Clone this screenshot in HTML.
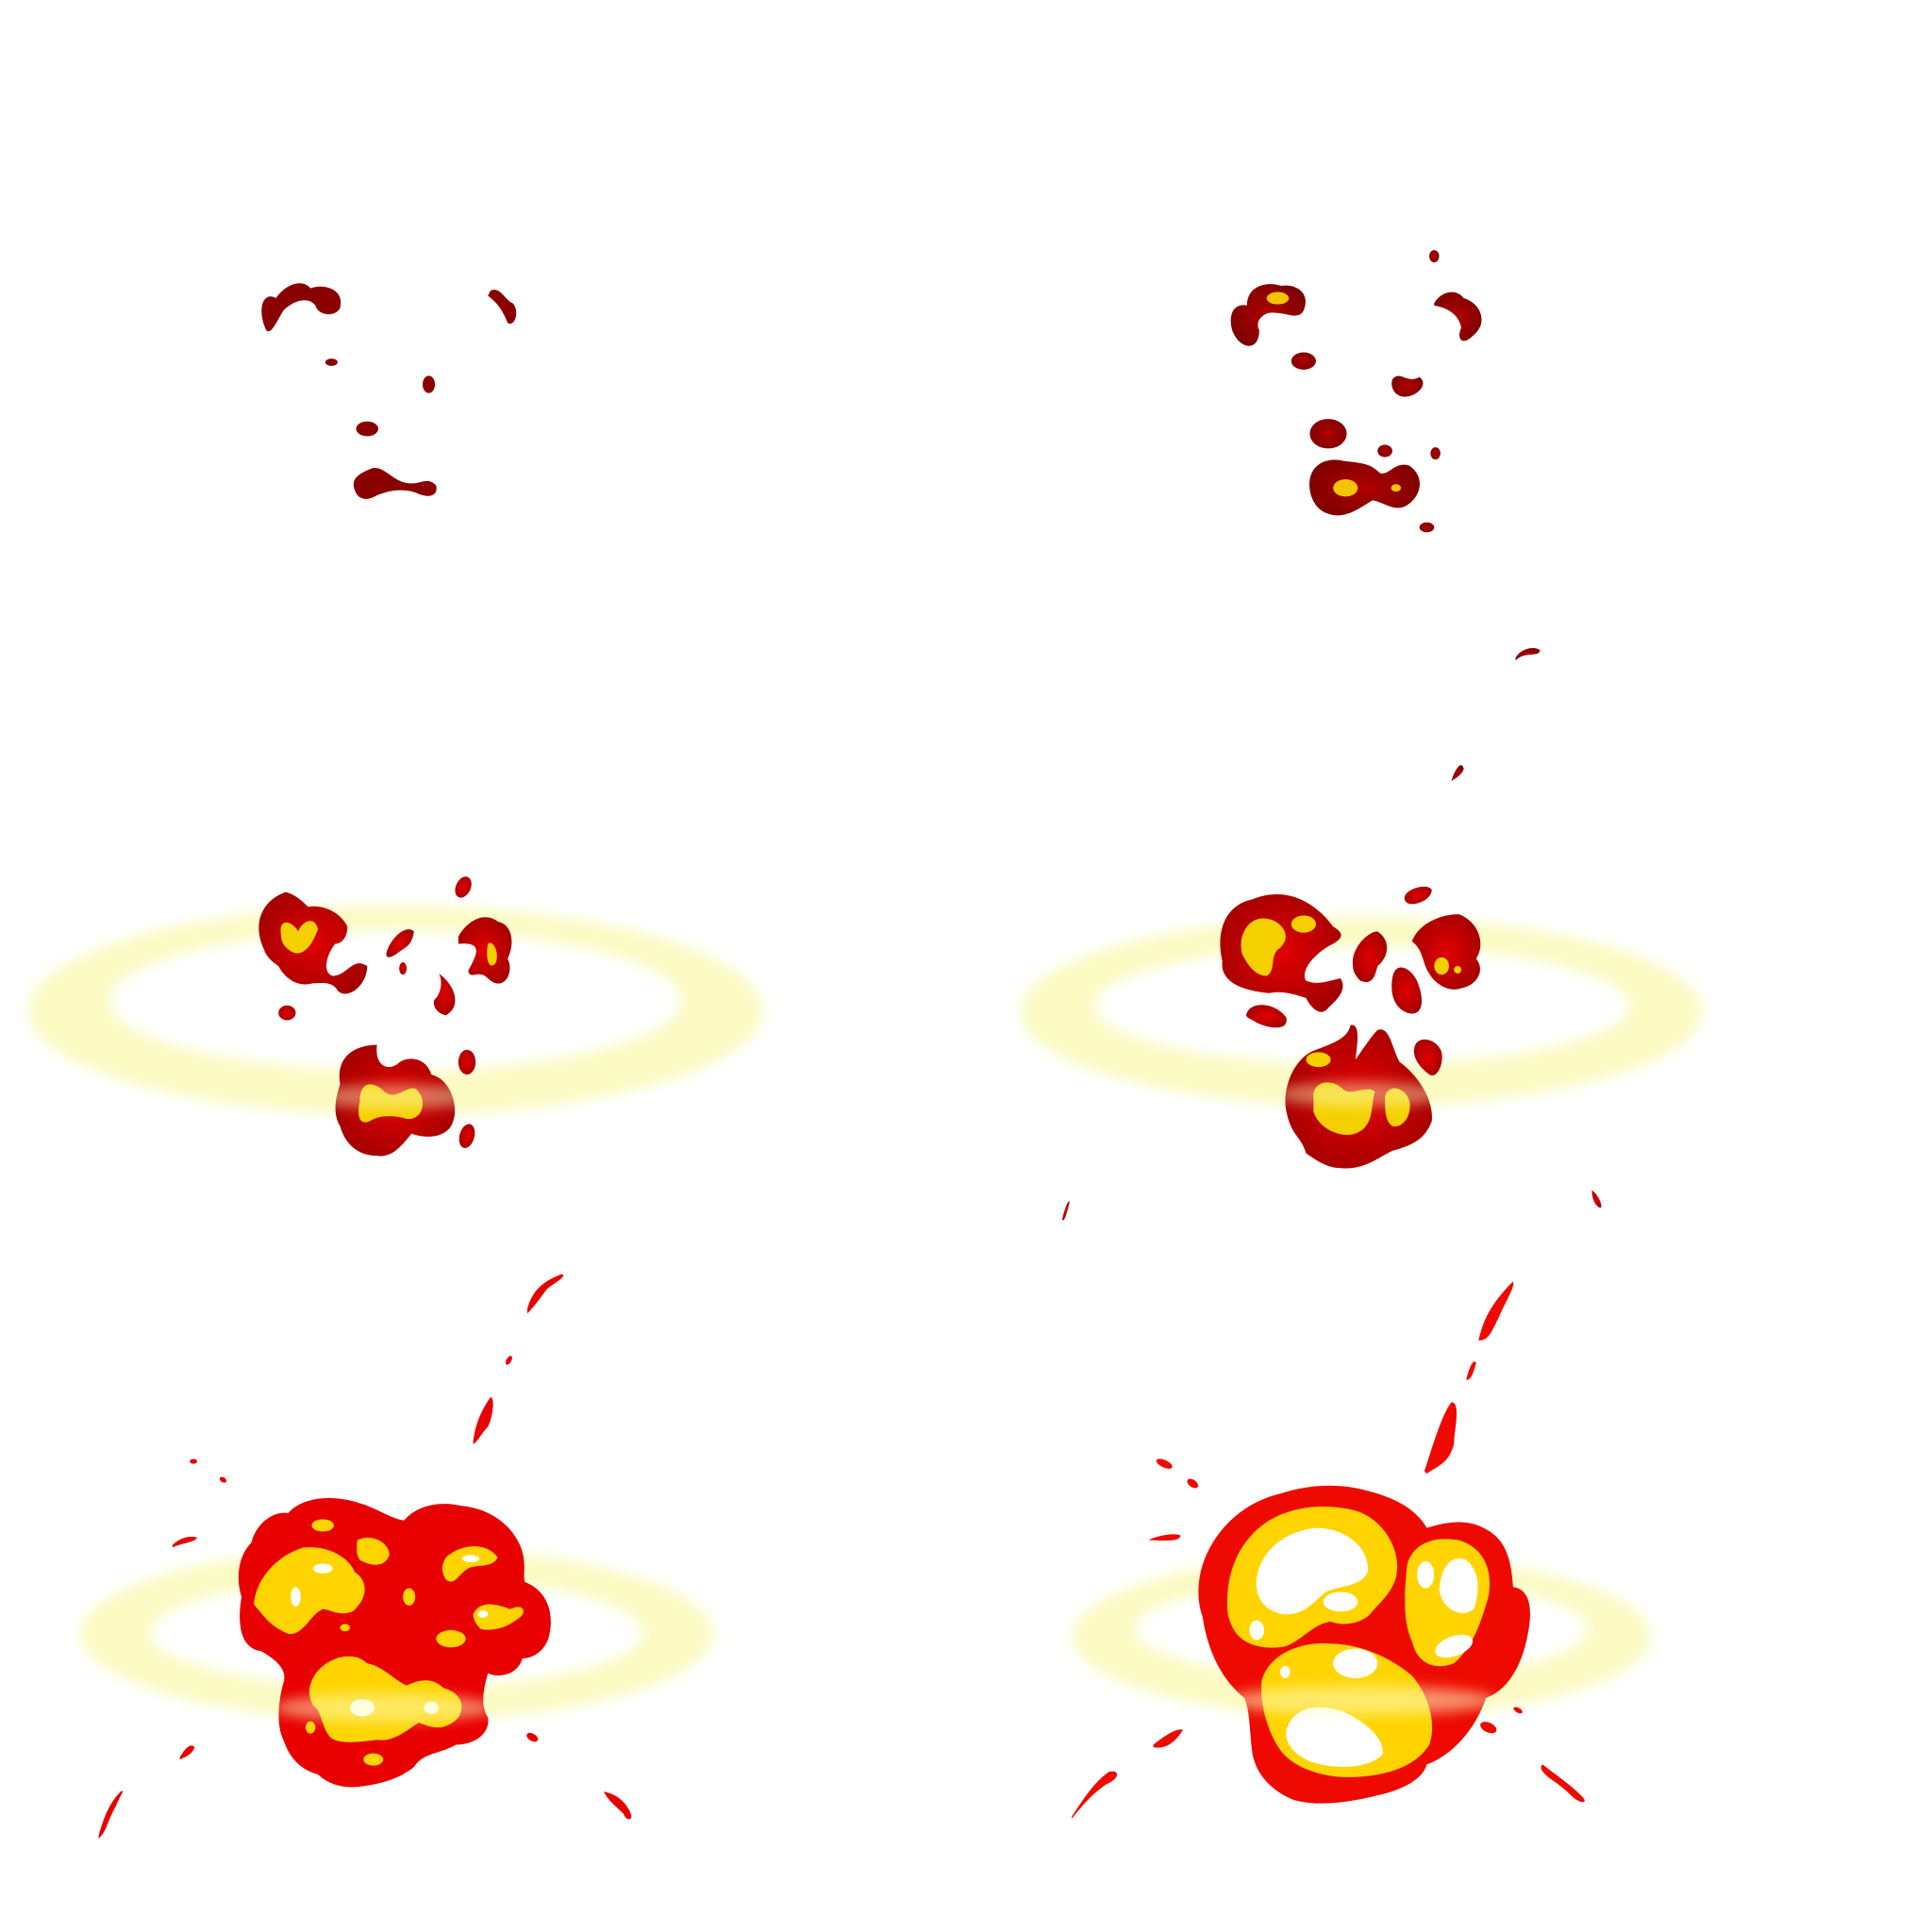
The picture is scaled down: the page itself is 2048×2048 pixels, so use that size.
<!DOCTYPE html>
<html><head><meta charset="utf-8"><style>
html,body{margin:0;padding:0;background:#fff;width:2048px;height:2048px;overflow:hidden}
svg{display:block}
</style></head><body>
<svg width="2048" height="2048" viewBox="0 0 1568 1568" xmlns="http://www.w3.org/2000/svg">
<defs>
<radialGradient id="dark" cx="50%" cy="50%" r="60%"><stop offset="0" stop-color="#b00000"/><stop offset="1" stop-color="#7a0000"/></radialGradient>
<radialGradient id="mid" cx="50%" cy="50%" r="60%"><stop offset="0" stop-color="#e00000"/><stop offset="1" stop-color="#a00000"/></radialGradient>
<filter id="blur" x="-20%" y="-50%" width="140%" height="200%"><feGaussianBlur stdDeviation="10"/></filter>
<filter id="rb" x="-20%" y="-50%" width="140%" height="200%"><feGaussianBlur stdDeviation="5"/></filter>
</defs>

<!-- rings -->
<g fill="#fcfbc4" fill-rule="evenodd" filter="url(#rb)">
<path d="M23,820 a298,85 0 1,0 596,0 a298,85 0 1,0 -596,0Z M89,812 a232,57 0 1,0 464,0 a232,57 0 1,0 -464,0Z"/>
<path d="M828,821 a277,77 0 1,0 554,0 a277,77 0 1,0 -554,0Z M888,816 a217,48 0 1,0 434,0 a217,48 0 1,0 -434,0Z"/>
<path d="M65,1326 a257,71 0 1,0 514,0 a257,71 0 1,0 -514,0Z M122,1325 a200,45 0 1,0 400,0 a200,45 0 1,0 -400,0Z"/>
<path d="M870,1328 a235,66 0 1,0 470,0 a235,66 0 1,0 -470,0Z M921,1322 a184,40 0 1,0 368,0 a184,40 0 1,0 -368,0Z"/>
</g>

<!-- Frame 1 -->
<g fill="#8a0000">
<path d="M216,268 C208,250 214,236 224,242 C232,230 246,226 252,234 C262,230 280,234 276,250 C272,258 258,256 256,248 C250,240 238,244 230,252 C224,262 220,272 216,268Z"/>
<path d="M398,236 C406,232 410,244 416,246 C422,252 418,266 412,262 C408,252 404,246 396,240Z"/>
<ellipse cx="269" cy="294" rx="5" ry="3"/>
<ellipse cx="348" cy="312" rx="5" ry="7"/>
<ellipse cx="298" cy="348" rx="9" ry="6"/>
<path d="M288,398 C284,388 292,384 302,380 C312,378 318,390 330,392 C342,394 346,386 354,394 C356,404 346,404 338,400 C326,396 316,398 306,402 C296,408 290,404 288,398Z"/>
</g>

<!-- Frame 2 -->
<g>
<g fill="url(#dark)">
<path d="M1000,268 C996,252 1004,246 1012,248 C1012,232 1028,228 1040,232 C1052,230 1064,238 1058,252 C1054,260 1044,254 1036,254 C1026,252 1018,260 1022,268 C1022,286 1006,284 1000,268Z"/>
<path d="M1164,246 C1170,236 1182,234 1188,242 C1202,246 1208,262 1196,272 C1186,282 1182,274 1186,266 C1184,256 1176,250 1164,248Z"/>
<ellipse cx="1164" cy="208" rx="4" ry="5"/>
<ellipse cx="1058" cy="293" rx="10" ry="7"/>
<path d="M1130,308 C1136,300 1142,312 1152,306 C1160,312 1150,322 1140,322 C1132,322 1128,314 1130,308Z"/>
<ellipse cx="1078" cy="352" rx="15" ry="12"/>
<ellipse cx="1124" cy="366" rx="6" ry="5"/><ellipse cx="1165" cy="368" rx="4" ry="5"/>
<path d="M1064,402 C1058,380 1074,370 1090,374 C1106,376 1112,376 1120,384 C1128,386 1132,374 1144,378 C1158,388 1152,404 1142,410 C1132,416 1124,408 1114,406 C1104,412 1094,420 1082,418 C1070,416 1066,408 1064,402Z"/>
<ellipse cx="1158" cy="428" rx="6" ry="4"/>
<path d="M1230,534 C1234,526 1246,524 1250,528 C1248,534 1238,528 1230,536Z"/>
<path d="M1178,634 C1180,626 1186,616 1188,624 C1186,630 1180,632 1178,634Z"/>
</g>
<g fill="#f5c400"><ellipse cx="1037" cy="242" rx="9" ry="5"/><ellipse cx="1092" cy="396" rx="10" ry="7"/><ellipse cx="1133" cy="396" rx="4" ry="3"/></g>
</g>

<!-- Frame 3 -->
<g>
<g fill="url(#mid)">
<path d="M214,770 C204,748 214,730 232,724 C240,726 246,732 250,736 C262,734 276,740 282,752 C282,762 276,766 272,766 C264,776 262,790 270,792 C282,792 286,776 298,784 C298,800 282,812 274,804 C270,796 260,798 254,798 C240,802 230,792 226,784 C220,780 216,776 214,770Z"/>
<path d="M372,760 C380,746 394,740 404,748 C416,750 418,766 412,778 C418,790 408,806 396,794 C388,786 382,796 380,788 C386,776 394,764 372,766Z"/>
<ellipse cx="376" cy="720" rx="6" ry="9" transform="rotate(25 376 720)"/>
<path d="M314,772 C318,760 330,750 336,756 C334,768 330,768 322,774 C316,778 312,778 314,772Z"/>
<ellipse cx="327" cy="786" rx="3" ry="5"/>
<path d="M356,790 C368,798 376,816 362,824 C352,822 350,812 354,810 C360,802 358,792 356,790Z"/>
<ellipse cx="233" cy="822" rx="7" ry="6"/>
<path d="M276,880 C272,856 290,848 306,848 C304,862 312,870 322,864 C330,856 346,858 350,872 C366,876 374,900 366,914 C360,924 344,924 334,920 C326,930 318,940 306,938 C290,938 280,928 276,914 C270,904 272,892 276,880Z"/>
<ellipse cx="379" cy="862" rx="7" ry="10"/><ellipse cx="379" cy="922" rx="6" ry="10" transform="rotate(15 379 922)"/>
</g>
<g fill="#f5d000">
<path d="M228,758 C226,744 238,748 242,756 C246,746 256,744 258,754 C254,766 246,778 236,772 C230,768 228,764 228,758Z"/>
<path d="M396,766 C400,762 406,774 402,782 C396,788 394,776 396,766Z"/>
<path d="M292,894 C292,876 304,878 312,886 C322,894 330,880 338,884 C348,894 342,910 330,908 C316,904 306,906 300,910 C290,914 290,902 292,894Z"/>
</g>
<ellipse cx="322" cy="890" rx="70" ry="10" fill="#fdfcc0" opacity="0.45" filter="url(#rb)"/>
</g>

<!-- Frame 4 -->
<g>
<g fill="url(#mid)">
<path d="M992,780 C986,754 996,734 1016,730 C1040,720 1064,728 1082,752 C1092,758 1090,762 1078,768 C1062,778 1056,790 1060,796 C1070,800 1078,796 1088,794 C1094,804 1084,812 1078,818 C1072,826 1064,818 1060,810 C1048,806 1040,804 1030,806 C1010,804 990,798 992,780Z"/>
<path d="M1146,764 C1150,752 1166,742 1184,742 C1200,748 1206,766 1198,778 C1206,788 1198,800 1186,802 C1176,806 1164,798 1160,790 C1154,782 1156,772 1146,764Z"/>
<path d="M1140,730 C1138,722 1158,716 1162,722 C1162,732 1142,738 1140,730Z"/>
<path d="M1098,784 C1096,770 1110,756 1118,756 C1130,764 1126,778 1118,784 C1116,792 1114,800 1104,796 C1100,792 1098,788 1098,784Z"/>
<path d="M1130,794 C1132,780 1144,784 1150,796 C1156,810 1156,826 1142,822 C1132,818 1128,808 1130,794Z"/>
<path d="M1012,822 C1016,812 1036,814 1044,826 C1046,838 1028,834 1020,830 C1014,826 1010,826 1012,822Z"/>
<path d="M1044,902 C1040,884 1050,858 1068,852 C1084,846 1094,842 1096,832 C1104,830 1102,846 1100,860 C1106,852 1112,842 1118,836 C1128,832 1130,852 1136,862 C1150,872 1164,892 1162,910 C1156,926 1144,930 1130,934 C1118,940 1106,950 1088,948 C1076,948 1066,940 1060,936 C1056,922 1048,922 1044,902Z"/>
<path d="M1148,850 C1150,840 1166,842 1170,854 C1172,864 1166,876 1160,872 C1152,866 1146,858 1148,850Z"/>
<path d="M862,990 C864,980 868,972 868,976 C866,984 864,992 862,990Z"/>
<path d="M1292,966 C1298,970 1302,982 1298,980 C1294,978 1292,972 1292,966Z"/>
</g>
<g fill="#f5d000">
<path d="M1008,774 C1004,756 1016,742 1030,746 C1040,748 1050,760 1038,770 C1030,776 1036,788 1028,792 C1018,792 1012,782 1008,774Z"/>
<ellipse cx="1058" cy="750" rx="10" ry="7"/>
<ellipse cx="1170" cy="784" rx="6" ry="7"/><ellipse cx="1183" cy="787" rx="3" ry="3"/>
<ellipse cx="1070" cy="860" rx="10" ry="6"/>
<path d="M1066,892 C1064,878 1080,874 1090,884 C1096,890 1110,880 1116,886 C1112,898 1116,914 1100,920 C1088,924 1070,916 1066,902Z"/>
<path d="M1124,892 C1124,880 1140,880 1144,894 C1146,906 1138,916 1130,914 C1124,910 1124,900 1124,892Z"/>
</g>
<ellipse cx="1105" cy="888" rx="70" ry="10" fill="#fdfcc0" opacity="0.45" filter="url(#rb)"/>
</g>

<!-- Frame 5 -->
<g>
<path fill="#e80000" d="M196,1296 C190,1276 196,1260 204,1252 C208,1236 222,1226 234,1228 C244,1216 268,1212 292,1220 C306,1224 316,1232 328,1234 C338,1222 356,1218 374,1222 C396,1224 414,1236 422,1254 C428,1268 424,1278 426,1284 C442,1290 450,1306 446,1326 C444,1338 434,1346 424,1346 C420,1360 404,1362 396,1358 C392,1372 390,1384 396,1394 C398,1408 384,1416 370,1416 C356,1424 344,1422 336,1434 C324,1444 308,1448 292,1450 C276,1452 264,1446 258,1440 C242,1436 234,1424 230,1412 C224,1400 226,1380 230,1366 C234,1354 222,1346 212,1340 C196,1338 192,1320 196,1296Z"/>
<g fill="#ffd400">
<path d="M206,1302 C208,1280 226,1262 246,1256 C264,1254 282,1262 288,1276 C298,1282 300,1296 286,1308 C274,1312 268,1306 262,1306 C252,1310 246,1328 234,1326 C220,1320 216,1314 206,1302Z"/>
<path d="M290,1250 C302,1244 316,1252 316,1262 C312,1274 298,1270 292,1266 C288,1260 290,1254 290,1250Z"/>
<path d="M362,1264 C372,1254 394,1250 404,1264 C400,1272 390,1270 382,1272 C372,1276 370,1288 362,1282 C358,1276 358,1270 362,1264Z"/>
<path d="M384,1310 C390,1298 404,1302 414,1306 C426,1300 428,1310 420,1314 C410,1322 398,1324 390,1322 C386,1318 384,1314 384,1310Z"/>
<ellipse cx="262" cy="1238" rx="9" ry="5"/><ellipse cx="332" cy="1296" rx="5" ry="7"/>
<ellipse cx="366" cy="1330" rx="12" ry="7"/><ellipse cx="280" cy="1321" rx="4" ry="3"/>
<path d="M254,1362 C262,1346 286,1338 298,1350 C310,1352 318,1362 330,1368 C342,1362 352,1362 360,1370 C374,1374 378,1384 372,1394 C360,1406 350,1402 340,1398 C330,1404 320,1414 306,1412 C290,1414 276,1416 268,1410 C260,1400 262,1390 254,1384 C250,1376 250,1370 254,1362Z"/>
<ellipse cx="303" cy="1428" rx="8" ry="5"/><ellipse cx="252" cy="1402" rx="4" ry="5"/>
</g>
<g fill="#fff"><ellipse cx="262" cy="1273" rx="8" ry="4"/><ellipse cx="240" cy="1296" rx="4" ry="8"/><ellipse cx="382" cy="1265" rx="7" ry="3"/><ellipse cx="392" cy="1310" rx="4" ry="3"/><ellipse cx="294" cy="1386" rx="10" ry="7"/><ellipse cx="350" cy="1386" rx="6" ry="5"/></g>
<ellipse cx="312" cy="1386" rx="90" ry="12" fill="#fdfcc0" opacity="0.5" filter="url(#rb)"/>
<g fill="#e80000">
<path d="M428,1062 C432,1048 440,1040 456,1034 C460,1036 452,1040 444,1046 C438,1054 434,1060 428,1066Z"/>
<ellipse cx="413" cy="1104" rx="2" ry="4" transform="rotate(30 413 1104)"/>
<path d="M384,1170 C386,1152 394,1140 398,1134 C402,1134 400,1150 396,1158 C390,1164 388,1170 384,1172Z"/>
<ellipse cx="157" cy="1186" rx="3" ry="2"/><ellipse cx="181" cy="1201" rx="3" ry="2" transform="rotate(30 181 1201)"/>
<path d="M140,1254 C146,1248 154,1246 160,1248 C158,1252 148,1252 140,1256Z"/>
<path d="M146,1426 C150,1420 154,1414 158,1418 C156,1424 150,1426 146,1428Z"/>
<path d="M80,1490 C84,1476 88,1464 98,1454 C102,1452 98,1456 94,1466 C88,1476 86,1488 80,1492Z"/>
<path d="M490,1454 C500,1456 508,1462 512,1472 C514,1478 508,1478 506,1472 C500,1466 494,1462 490,1454Z"/>
<ellipse cx="432" cy="1410" rx="5" ry="3" transform="rotate(30 432 1410)"/>
</g>
</g>

<!-- Frame 6 -->
<g>
<path fill="#ee0a00" d="M976,1312 C970,1296 972,1274 982,1256 C994,1234 1014,1218 1040,1212 C1064,1204 1090,1204 1110,1210 C1134,1216 1150,1226 1158,1240 C1172,1236 1188,1232 1204,1240 C1220,1248 1226,1260 1228,1288 C1242,1290 1244,1306 1240,1326 C1236,1350 1224,1372 1206,1378 C1198,1402 1180,1424 1158,1432 C1154,1446 1134,1454 1114,1458 C1090,1464 1064,1466 1048,1460 C1030,1452 1018,1438 1016,1420 C1014,1400 1014,1388 1010,1378 C992,1364 980,1340 976,1312Z"/>
<g fill="#ffd400">
<path d="M996,1300 C996,1272 1008,1248 1030,1234 C1050,1222 1076,1220 1100,1226 C1120,1232 1134,1252 1134,1272 C1134,1290 1120,1300 1112,1310 C1104,1318 1090,1320 1080,1316 C1066,1318 1058,1330 1044,1336 C1024,1340 1006,1334 1000,1320 C996,1312 996,1306 996,1300Z"/>
<path d="M1142,1270 C1146,1254 1162,1246 1184,1250 C1204,1256 1212,1274 1208,1296 C1202,1316 1196,1336 1180,1350 C1164,1356 1150,1350 1146,1332 C1138,1316 1140,1290 1142,1270Z"/>
<path d="M1024,1364 C1030,1342 1056,1332 1080,1334 C1104,1334 1130,1346 1146,1360 C1160,1376 1166,1400 1160,1416 C1150,1432 1130,1440 1104,1442 C1080,1444 1056,1438 1042,1424 C1030,1410 1022,1384 1024,1364Z"/>
</g>
<g fill="#fff">
<path d="M1020,1280 C1024,1256 1046,1242 1068,1240 C1092,1240 1112,1256 1110,1276 C1104,1288 1090,1286 1076,1292 C1066,1300 1058,1312 1040,1310 C1024,1306 1018,1294 1020,1280Z"/>
<path d="M1168,1290 C1170,1268 1180,1262 1190,1266 C1200,1274 1202,1290 1196,1306 C1186,1314 1170,1306 1168,1290Z"/>
<ellipse cx="1157" cy="1278" rx="7" ry="11"/>
<ellipse cx="1088" cy="1300" rx="14" ry="8"/>
<ellipse cx="1020" cy="1323" rx="6" ry="8"/>
<ellipse cx="1100" cy="1350" rx="18" ry="12"/>
<path d="M1044,1404 C1050,1384 1072,1382 1092,1390 C1108,1398 1124,1410 1122,1424 C1110,1436 1084,1436 1064,1430 C1050,1424 1042,1414 1044,1404Z"/>
<ellipse cx="1180" cy="1336" rx="16" ry="8" transform="rotate(-20 1180 1336)"/>
<ellipse cx="1043" cy="1357" rx="4" ry="5"/>
</g>
<ellipse cx="1105" cy="1380" rx="110" ry="12" fill="#fdfcc0" opacity="0.55" filter="url(#rb)"/>
<g fill="#ee0a00">
<path d="M1200,1088 C1204,1068 1214,1054 1228,1040 C1230,1044 1222,1056 1216,1070 C1210,1082 1208,1088 1200,1088Z"/>
<path d="M1190,1120 C1192,1110 1196,1102 1198,1106 C1196,1114 1194,1120 1190,1120Z"/>
<path d="M1156,1194 C1162,1176 1170,1148 1178,1138 C1186,1138 1180,1162 1180,1172 C1176,1188 1166,1190 1158,1196Z"/>
<ellipse cx="945" cy="1188" rx="7" ry="3" transform="rotate(25 945 1188)"/>
<ellipse cx="968" cy="1204" rx="5" ry="3" transform="rotate(35 968 1204)"/>
<path d="M932,1250 C940,1246 952,1244 958,1246 C958,1252 944,1250 932,1250Z"/>
<path d="M936,1416 C946,1408 956,1402 960,1404 C954,1414 946,1420 936,1418Z"/>
<path d="M870,1474 C878,1462 888,1446 900,1438 C910,1436 908,1444 898,1448 C886,1456 876,1468 870,1476Z"/>
<path d="M1252,1432 C1262,1440 1274,1448 1284,1458 C1290,1464 1282,1464 1276,1458 C1266,1448 1258,1444 1254,1440 C1250,1436 1250,1434 1252,1432Z"/>
<ellipse cx="1208" cy="1402" rx="7" ry="4" transform="rotate(25 1208 1402)"/>
<ellipse cx="1232" cy="1388" rx="4" ry="2" transform="rotate(30 1232 1388)"/>
</g>
</g>
</svg>
</body></html>
